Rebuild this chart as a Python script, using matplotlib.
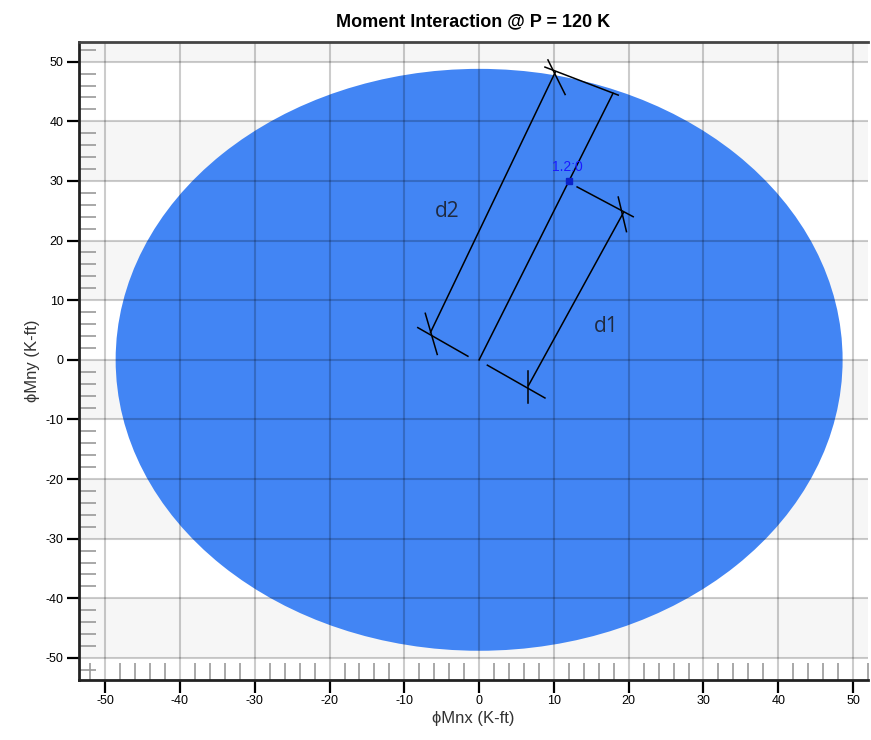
import matplotlib
matplotlib.use("Agg")
import matplotlib.pyplot as plt
from matplotlib.patches import Ellipse
from matplotlib.ticker import MultipleLocator

plt.rcParams["axes.unicode_minus"] = False

# ---- data ----
title = "Moment Interaction @ P = 120 K"
xlabel = "ϕMnx (K-ft)"
ylabel = "ϕMny (K-ft)"
x_ticks = [-50, -40, -30, -20, -10, 0, 10, 20, 30, 40, 50]
y_ticks = [-50, -40, -30, -20, -10, 0, 10, 20, 30, 40, 50]
band_bottoms = [-50, -30, -10, 10, 30, 50]
x_limits = [-53.5, 52.0]
y_limits = [-53.7, 53.3]

# interaction surface (approx. ellipse)
surface_center = (0.0, 0.0)
surface_rx = 48.6
surface_ry = 48.8

# load point
load_x = [12.0]
load_y = [30.0]
load_label = "1.2:0"

# dimension lines (x pairs, y pairs)
center_line_x = [0.0, 17.9]
center_line_y = [0.0, 44.7]
d2_line_x = [-6.5, 10.2]
d2_line_y = [4.6, 48.3]
d1_line_x = [6.6, 19.3]
d1_line_y = [-4.3, 24.7]
ext_top_x = [8.8, 18.6]
ext_top_y = [49.1, 44.4]
ext_d2_bottom_x = [-8.2, -1.5]
ext_d2_bottom_y = [5.4, 0.6]
ext_d1_top_x = [13.1, 20.6]
ext_d1_top_y = [29.0, 24.0]
ext_d1_bottom_x = [1.1, 8.8]
ext_d1_bottom_y = [-0.9, -6.4]
tick_d2_top_x = [9.2, 11.5]
tick_d2_top_y = [50.3, 44.5]
tick_d2_bottom_x = [-7.2, -5.6]
tick_d2_bottom_y = [7.8, 0.9]
tick_d1_top_x = [18.6, 19.7]
tick_d1_top_y = [27.3, 21.5]
tick_d1_bottom_x = [6.6, 6.6]
tick_d1_bottom_y = [-1.8, -7.3]
d2_text = ("d2", -4.3, 24.9)
d1_text = ("d1", 17.0, 5.6)

# ---- figure ----
fig = plt.figure(figsize=(8.71, 7.40), dpi=100)
ax = fig.add_axes([0.0907, 0.0811, 0.9059, 0.8621])
ax.set_xlim(*x_limits)
ax.set_ylim(*y_limits)

# alternating bands
for lo in band_bottoms:
    ax.axhspan(lo, lo + 10, color="#f6f6f6", zorder=0, lw=0)

ax.add_patch(Ellipse(surface_center, 2 * surface_rx, 2 * surface_ry,
                     facecolor="#4285f4", edgecolor="none", zorder=1))

for xv in x_ticks:
    ax.axvline(xv, color="black", alpha=0.2, lw=1.5, zorder=2)
for yv in y_ticks:
    ax.axhline(yv, color="black", alpha=0.2, lw=1.5, zorder=2)

line_kw = dict(color="black", lw=1.1, zorder=4)
for xs, ys in [(center_line_x, center_line_y), (d2_line_x, d2_line_y),
               (d1_line_x, d1_line_y), (ext_top_x, ext_top_y),
               (ext_d2_bottom_x, ext_d2_bottom_y), (ext_d1_top_x, ext_d1_top_y),
               (ext_d1_bottom_x, ext_d1_bottom_y), (tick_d2_top_x, tick_d2_top_y),
               (tick_d2_bottom_x, tick_d2_bottom_y), (tick_d1_top_x, tick_d1_top_y),
               (tick_d1_bottom_x, tick_d1_bottom_y)]:
    ax.plot(xs, ys, **line_kw)

ax.plot(load_x, load_y, "s", color="#0a22c8", ms=4, zorder=5)
ax.text(load_x[0] - 0.2, load_y[0] + 1.2, load_label, color="#1a1aff",
        fontsize=10, ha="center", va="bottom", family="Liberation Sans", zorder=5)

for txt, tx, ty in [d2_text, d1_text]:
    ax.text(tx, ty, txt, fontsize=15, color="#1f2a40", ha="center", va="center",
            family="Open Sans", zorder=5)

# axes styling
ax.set_xticks(x_ticks)
ax.set_yticks(y_ticks)
ax.xaxis.set_minor_locator(MultipleLocator(2))
ax.yaxis.set_minor_locator(MultipleLocator(2))
ax.tick_params(which="major", direction="out", length=9, width=1.6, color="black",
               labelsize=9, pad=2)
ax.tick_params(which="minor", direction="in", length=12, width=1.2, color="#999999")
for lab in ax.get_xticklabels() + ax.get_yticklabels():
    lab.set_family("Liberation Sans")

for side in ["left", "bottom"]:
    ax.spines[side].set_linewidth(2)
    ax.spines[side].set_color("#222222")
ax.spines["top"].set_linewidth(2)
ax.spines["top"].set_color("#444444")
ax.spines["right"].set_visible(False)

ax.set_title(title, fontsize=13, fontweight="bold", family="Liberation Sans", pad=11)
ax.set_xlabel(xlabel, fontsize=12, family="Liberation Sans", color="#333333", labelpad=3)
ax.set_ylabel(ylabel, fontsize=12, family="Liberation Sans", color="#333333", labelpad=4)

fig.savefig("out.png", dpi=100)
